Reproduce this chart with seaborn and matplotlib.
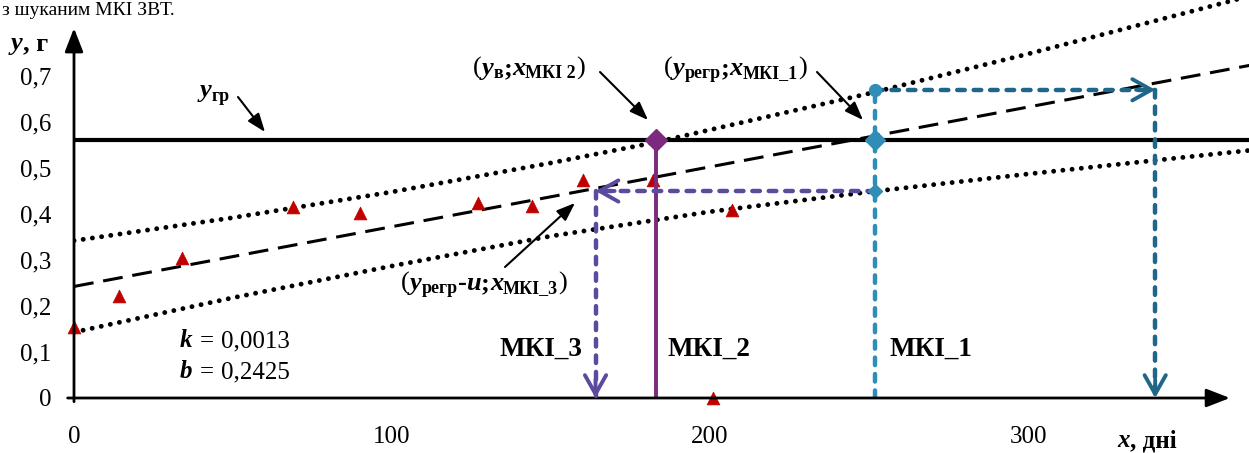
import matplotlib
matplotlib.use("Agg")
import matplotlib.pyplot as plt
import pandas as pd
import seaborn as sns

# ---------------- data ----------------
obs_x = [0, 14, 34, 69, 90, 127, 144, 160, 182, 201, 207]
obs_y = [0.155, 0.222, 0.304, 0.415, 0.403, 0.425, 0.418, 0.474, 0.475, 0.0, 0.409]

k = 0.0013
b = 0.2425
reg_x = [0, 372]

band_up_x = [0, 50, 100, 150, 183, 200, 250, 300, 350, 372]
band_up_y = [0.342, 0.392, 0.448, 0.511, 0.556, 0.583, 0.662, 0.748, 0.838, 0.878]
band_lo_x = [0, 50, 100, 150, 200, 250, 300, 350, 372]
band_lo_y = [0.143, 0.218, 0.287, 0.352, 0.405, 0.448, 0.487, 0.524, 0.540]

y_gr = 0.56
x_mki1, x_mki2, x_mki3 = 252, 183, 164
x_far = 340
y_up_mki1 = 0.67
y_lo_mki1 = 0.45

x_ticks = [0, 50, 100, 150, 200, 250, 300, 350]
x_tick_labels = ["0", "", "100", "", "200", "", "300", ""]
y_ticks = [0, 0.1, 0.2, 0.3, 0.4, 0.5, 0.6, 0.7]
y_tick_labels = ["0", "0,1", "0,2", "0,3", "0,4", "0,5", "0,6", "0,7"]

# ---------------- style ----------------
sns.set_theme(style="white")
SERIF = ["Liberation Serif", "DejaVu Serif"]
plt.rcParams["font.family"] = SERIF

W, H = 1249, 453
PX_PER_DAY = 3.18
PX_PER_UNIT = 460.0
X0, Y0 = 74, 398

C_RED = "#C00000"
C_PURPLE = "#7B2A7E"
C_VIOLET = "#5B4A9E"
C_TEAL = "#2F8DB8"
C_DTEAL = "#1F6688"

fig = plt.figure(figsize=(W / 100, H / 100), dpi=100)
ax = fig.add_axes([X0 / W, (H - Y0) / H, (W - X0) / W, Y0 / H])
ax.set_xlim(0, (W - X0) / PX_PER_DAY)
ax.set_ylim(0, Y0 / PX_PER_UNIT)
for sp in ax.spines.values():
    sp.set_visible(False)

ax.set_xticks(x_ticks)
ax.set_xticklabels(x_tick_labels)
ax.set_yticks(y_ticks)
ax.set_yticklabels(y_tick_labels)
ax.tick_params(axis="x", direction="out", length=5, width=1.2, color="#555555",
               pad=15, labelsize=18, labelcolor="black")
ax.tick_params(axis="y", direction="out", length=5, width=1.2, color="#555555",
               pad=11, labelsize=18, labelcolor="black")
for lab in ax.get_xticklabels() + ax.get_yticklabels():
    lab.set_family(SERIF)

# axes with arrow heads
axis_arrow = dict(arrowstyle="-|>,head_length=0.9,head_width=0.35",
                  lw=2.0, color="black", mutation_scale=16, shrinkA=0, shrinkB=0)
ax.annotate("", xy=(363.5, 0), xytext=(-2, 0), xycoords="data",
            arrowprops=axis_arrow, annotation_clip=False, zorder=6)
ax.annotate("", xy=(0, 0.804), xytext=(0, -0.008), xycoords="data",
            arrowprops=axis_arrow, annotation_clip=False, zorder=6)

# regression line and its bands
reg_df = pd.DataFrame({"x": reg_x, "y": [k * v + b for v in reg_x]})
sns.lineplot(data=reg_df, x="x", y="y", ax=ax, color="black", lw=2.2,
             linestyle=(0, (6.5, 3.2)), zorder=3)
up_df = pd.DataFrame({"x": band_up_x, "y": band_up_y})
lo_df = pd.DataFrame({"x": band_lo_x, "y": band_lo_y})
for df in (up_df, lo_df):
    sns.lineplot(data=df, x="x", y="y", ax=ax, color="black", lw=3.5,
                 linestyle=(0, (0.01, 1.9)), dash_capstyle="round", zorder=3)

# threshold level
ax.axhline(y_gr, color="black", lw=3.0, zorder=4)

# observations
obs_df = pd.DataFrame({"x": obs_x, "y": obs_y})
sns.scatterplot(data=obs_df, x="x", y="y", ax=ax, marker="^", s=85,
                color=C_RED, edgecolor=C_RED, linewidth=0.5, zorder=5,
                clip_on=False)


def dashed(xs, ys, color, z=5):
    ax.plot(xs, ys, color=color, lw=3.2, linestyle=(0, (1.7, 2.0)),
            dash_capstyle="round", zorder=z)


def head(tip, tail, color):
    ax.annotate("", xy=tip, xytext=tail, xycoords="data",
                arrowprops=dict(arrowstyle="->,head_length=0.8,head_width=0.45",
                                lw=2.8, color=color, mutation_scale=17,
                                shrinkA=0, shrinkB=0),
                annotation_clip=False, zorder=7)


# МКІ_2: upper band meets threshold
ax.plot([x_mki2, x_mki2], [0, y_gr], color=C_PURPLE, lw=2.8, zorder=5,
        solid_capstyle="butt")
ax.plot([x_mki2], [y_gr], marker="D", ms=11, color=C_PURPLE, zorder=8,
        markeredgecolor=C_PURPLE)

# МКІ_1: regression meets threshold
dashed([x_mki1, x_mki1], [0, y_up_mki1], C_TEAL)
ax.plot([x_mki1], [y_up_mki1], marker="o", ms=8.5, color=C_TEAL, zorder=8)
ax.plot([x_mki1], [y_gr], marker="D", ms=10, color=C_TEAL, zorder=8)
ax.plot([x_mki1], [y_lo_mki1], marker="D", ms=7.5, color=C_TEAL, zorder=8)

# projection to the right along the upper level
dashed([x_mki1, x_far], [y_up_mki1, y_up_mki1], C_DTEAL)
dashed([x_far, x_far], [y_up_mki1, 0], C_DTEAL)
head((x_far, y_up_mki1), (x_far - 6, y_up_mki1), C_DTEAL)
head((x_far, 0), (x_far, 0.04), C_DTEAL)

# МКІ_3: projection to the left along the lower level
dashed([x_mki1, x_mki3], [y_lo_mki1, y_lo_mki1], C_VIOLET, z=6)
dashed([x_mki3, x_mki3], [y_lo_mki1, 0], C_VIOLET, z=6)
head((x_mki3, y_lo_mki1), (x_mki3 + 6, y_lo_mki1), C_VIOLET)
head((x_mki3, 0), (x_mki3, 0.04), C_VIOLET)

ax.set_xlabel("")
ax.set_ylabel("")

# ---------------- text ----------------
renderer = fig.canvas.get_renderer()


def rich(px, py, runs):
    """Draw a run of differently styled pieces, left to right, baseline at py."""
    x = px
    for item in runs:
        if isinstance(item, (int, float)):
            x += item
            continue
        s, style, size, dy = item
        t = fig.text(x / W, 1 - (py + dy) / H, s, ha="left", va="baseline",
                     fontsize=size, family=SERIF,
                     fontweight="bold" if "b" in style else "normal",
                     fontstyle="italic" if "i" in style else "normal",
                     color="black", zorder=10)
        x += t.get_window_extent(renderer).width


rich(2, 15, [("з шуканим МКІ ЗВТ.", "r", 14, 0)])

rich(11, 50, [("y", "bi", 19, 0), (", г", "b", 19, 0)])
rich(200, 97, [("y", "bi", 19, 0), ("гр", "b", 13, 4)])

rich(473, 75, [("(", "r", 19, 0), ("y", "bi", 19, 0), ("в", "b", 13, 3),
               (";", "b", 19, 0), ("x", "bi", 19, 0), ("МКІ 2", "b", 13, 3),
               (")", "r", 19, 0)])
rich(664, 75, [("(", "r", 19, 0), ("y", "bi", 19, 0), ("регр", "b", 13, 3),
               (";", "b", 19, 0), ("x", "bi", 19, 0), ("МКІ_1", "b", 13, 3),
               (")", "r", 19, 0)])
rich(401, 290, [("(", "r", 19, 0), ("y", "bi", 19, 0), ("регр", "b", 13, 3),
                ("-", "b", 19, 0), ("u", "bi", 19, 0),
                (";", "b", 19, 0), ("x", "bi", 19, 0), ("МКІ_3", "b", 13, 3),
                (")", "r", 19, 0)])

rich(499, 356, [("МКІ_3", "b", 19.5, 0)])
rich(667, 356, [("МКІ_2", "b", 19.5, 0)])
rich(889, 356, [("МКІ_1", "b", 19.5, 0)])

rich(180, 347, [("k", "bi", 18, 0), 7, ("=", "r", 18, 0), 7, ("0,0013", "r", 18, 0)])
rich(180, 378, [("b", "bi", 18, 0), 7, ("=", "r", 18, 0), 7, ("0,2425", "r", 18, 0)])

rich(1117, 447, [("x", "bi", 18, 0), (", дні", "b", 18, 0)])


# pointer arrows for the annotations
def pointer(p0, p1):
    ax.annotate("", xy=(p1[0], H - p1[1]), xytext=(p0[0], H - p0[1]),
                xycoords="figure pixels", textcoords="figure pixels",
                arrowprops=dict(arrowstyle="-|>,head_length=0.8,head_width=0.3",
                                lw=1.5, color="black", mutation_scale=14,
                                shrinkA=0, shrinkB=0),
                annotation_clip=False, zorder=9)


pointer((238, 97), (265, 132))
pointer((600, 72), (648, 120))
pointer((817, 72), (863, 120))
pointer((505, 267), (575, 203))

fig.savefig("out.png", dpi=100)
